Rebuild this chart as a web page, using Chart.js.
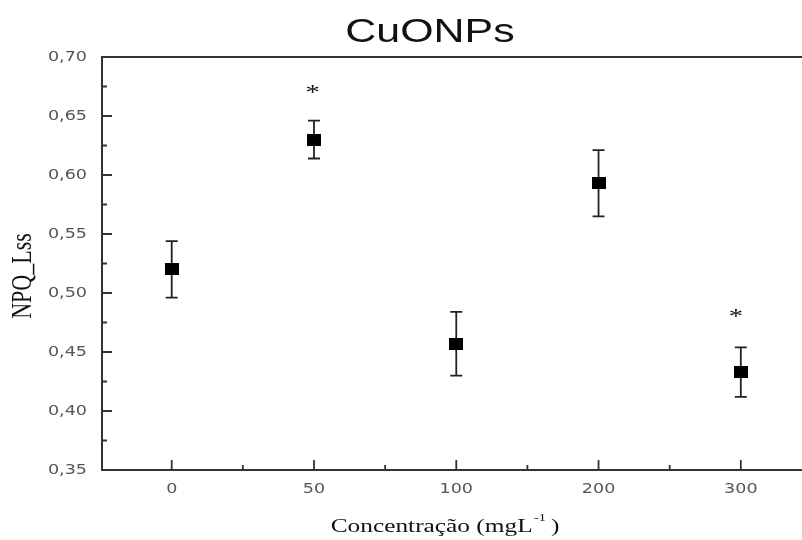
<!DOCTYPE html>
<html>
<head>
<meta charset="utf-8">
<script src="https://cdn.jsdelivr.net/npm/chart.js@4"></script>
<style>
  body { margin: 0; background: #fff; }
  canvas { display: block; }
</style>
</head>
<body>
<canvas id="chart" width="802" height="540"></canvas>
<script>
const concentrations = ['0', '50', '100', '200', '300'];
const npqMeans = [0.520, 0.630, 0.457, 0.593, 0.433];
const npqErrors = [0.024, 0.016, 0.027, 0.028, 0.021];
const starPositions = [0.99, 3.965];
const starValues = [0.673, 0.483];

const axisColor = '#333';
const labelColor = '#555';
const stretch = 1.3; // the original figure is stretched horizontally

function isMajorY(v) {
  return Math.round(v * 1000) % 50 === 0;
}

function yLabel(v) {
  return v.toFixed(2).replace('.', ',');
}

// filled square marker, a bit wider than tall like the original
const marker = document.createElement('canvas');
marker.width = 14;
marker.height = 12;
const mctx = marker.getContext('2d');
mctx.fillStyle = '#000';
mctx.fillRect(0, 0, 14, 12);

function stretchedText(ctx, text, x, y, align) {
  ctx.save();
  ctx.translate(x, y);
  ctx.scale(stretch, 1);
  ctx.textAlign = align;
  ctx.fillText(text, 0, 0);
  ctx.restore();
}

const decorations = {
  id: 'decorations',
  beforeDatasetsDraw(chart) {
    const ctx = chart.ctx;
    const x = chart.scales.x;
    const y = chart.scales.y;
    ctx.save();
    ctx.strokeStyle = '#222';
    ctx.lineWidth = 1.8;
    npqMeans.forEach((m, i) => {
      const px = x.getPixelForValue(i);
      const top = y.getPixelForValue(m + npqErrors[i]);
      const bot = y.getPixelForValue(m - npqErrors[i]);
      ctx.beginPath();
      ctx.moveTo(px, top); ctx.lineTo(px, bot);
      ctx.moveTo(px - 6, top); ctx.lineTo(px + 6, top);
      ctx.moveTo(px - 6, bot); ctx.lineTo(px + 6, bot);
      ctx.stroke();
    });
    ctx.restore();
  },
  afterDraw(chart) {
    const ctx = chart.ctx;
    const area = chart.chartArea;
    const x = chart.scales.x;
    const y = chart.scales.y;
    ctx.save();

    // axis frame: left, top, bottom
    ctx.strokeStyle = axisColor;
    ctx.lineWidth = 2;
    ctx.beginPath();
    ctx.moveTo(area.right, area.top);
    ctx.lineTo(area.left, area.top);
    ctx.lineTo(area.left, area.bottom);
    ctx.lineTo(area.right, area.bottom);
    ctx.stroke();

    // inward tick marks
    ctx.lineWidth = 1.8;
    ctx.beginPath();
    y.ticks.forEach(t => {
      const py = y.getPixelForValue(t.value);
      if (Math.abs(py - area.top) < 2 || Math.abs(py - area.bottom) < 2) return;
      const len = isMajorY(t.value) ? 10 : 5;
      ctx.moveTo(area.left, py); ctx.lineTo(area.left + len, py);
    });
    x.ticks.forEach(t => {
      const px = x.getPixelForValue(t.value);
      const len = Number.isInteger(t.value) ? 10 : 5;
      ctx.moveTo(px, area.bottom); ctx.lineTo(px, area.bottom - len);
    });
    ctx.stroke();

    // tick labels
    ctx.fillStyle = labelColor;
    ctx.font = '13.5px "DejaVu Sans"';
    ctx.textBaseline = 'middle';
    y.ticks.forEach(t => {
      if (!isMajorY(t.value)) return;
      stretchedText(ctx, yLabel(t.value), area.left - 15, y.getPixelForValue(t.value), 'right');
    });
    ctx.textBaseline = 'alphabetic';
    x.ticks.forEach(t => {
      if (!Number.isInteger(t.value)) return;
      stretchedText(ctx, concentrations[t.value], x.getPixelForValue(t.value), area.bottom + 23, 'center');
    });

    // significance asterisks
    ctx.fillStyle = '#111';
    ctx.font = '22px "Liberation Serif"';
    ctx.textBaseline = 'middle';
    starPositions.forEach((p, i) => {
      stretchedText(ctx, '*', x.getPixelForValue(p), y.getPixelForValue(starValues[i]) + 4, 'center');
    });

    // title
    ctx.fillStyle = '#111';
    ctx.font = '33px "Liberation Sans"';
    ctx.textBaseline = 'alphabetic';
    stretchedText(ctx, 'CuONPs', 430, 42, 'center');

    // x axis title with superscript
    const big = '19.5px "Liberation Serif"';
    const small = '11px "Liberation Serif"';
    const main = 'Concentração (mgL';
    const sup = '-1';
    const close = ' )';
    ctx.font = big;
    const wMain = ctx.measureText(main).width;
    const wClose = ctx.measureText(close).width;
    ctx.font = small;
    const wSup = ctx.measureText(sup).width;
    ctx.save();
    ctx.translate(445, 532);
    ctx.scale(stretch, 1);
    let sx = -(wMain + wSup + wClose) / 2;
    ctx.textAlign = 'left';
    ctx.font = big;
    ctx.fillText(main, sx, 0);
    sx += wMain;
    ctx.font = small;
    ctx.fillText(sup, sx + 1, -11);
    sx += wSup;
    ctx.font = big;
    ctx.fillText(close, sx, 0);
    ctx.restore();

    // y axis title
    ctx.translate(31, 276);
    ctx.scale(stretch, 1);
    ctx.rotate(-Math.PI / 2);
    ctx.font = '22px "Liberation Serif"';
    ctx.textAlign = 'center';
    ctx.fillText('NPQ_Lss', 0, 0);
    ctx.restore();
  }
};

new Chart(document.getElementById('chart'), {
  type: 'scatter',
  data: {
    datasets: [{
      data: npqMeans.map((v, i) => ({ x: i, y: v })),
      pointStyle: marker,
      pointRadius: 7,
      pointHoverRadius: 7,
      backgroundColor: '#000',
      borderColor: '#000',
      borderWidth: 0
    }]
  },
  options: {
    responsive: false,
    animation: false,
    devicePixelRatio: 1,
    layout: { autoPadding: false, padding: { top: 57, left: 0, right: 0, bottom: 0 } },
    plugins: {
      legend: { display: false },
      tooltip: { enabled: false }
    },
    scales: {
      x: {
        type: 'linear',
        min: -0.49,
        max: 4.43,
        grid: { display: false, drawTicks: false },
        border: { display: false },
        afterFit: s => { s.height = 70; },
        afterBuildTicks: s => {
          s.ticks = [];
          concentrations.forEach((c, i) => {
            s.ticks.push({ value: i });
            if (i < concentrations.length - 1) s.ticks.push({ value: i + 0.5 });
          });
        },
        ticks: { display: false, autoSkip: false, maxRotation: 0 }
      },
      y: {
        min: 0.35,
        max: 0.70,
        grid: { display: false, drawTicks: false },
        border: { display: false },
        afterFit: s => { s.width = 102; },
        afterBuildTicks: s => {
          s.ticks = [];
          for (let k = 350; k <= 700; k += 25) s.ticks.push({ value: k / 1000 });
        },
        ticks: { display: false, autoSkip: false }
      }
    }
  },
  plugins: [decorations]
});
</script>
</body>
</html>
